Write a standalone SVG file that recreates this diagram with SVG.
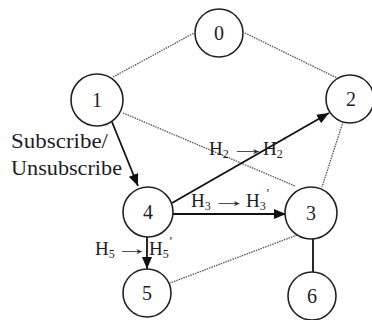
<svg xmlns="http://www.w3.org/2000/svg" width="372" height="320" viewBox="0 0 372 320" font-family="'Liberation Serif', 'Times New Roman', serif">
  <defs>
    <marker id="arrow" viewBox="0 0 12 10" refX="12" refY="5" markerWidth="12" markerHeight="10" markerUnits="userSpaceOnUse" orient="auto">
      <path d="M0,0 L12,5 L0,10 z" fill="#111"/>
    </marker>
  </defs>
  <style>
    text { font-family: "Liberation Serif", "Times New Roman", serif; }
    .node circle { fill: #fff; stroke: #222; stroke-width: 1.6; }
    .node text { font-size: 20px; fill: #1d1d28; text-anchor: middle; }
    .dot { stroke: #555; stroke-width: 1.3; stroke-dasharray: 1.5 1; fill: none; }
    .solid { stroke: #111; stroke-width: 1.8; fill: none; }
    .arr { stroke: #111; stroke-width: 1.8; fill: none; marker-end: url(#arrow); }
    .lbl { font-size: 20px; fill: #1d1d28; }
    .hl { font-size: 19px; fill: #1d1d28; }
    .sub { font-size: 12px; }
  </style>
  <rect width="372" height="320" fill="#fff"/>

  <!-- links between peers -->
  <g id="connectors">
    <line class="dot" x1="113" y1="77" x2="194" y2="33"/>
    <line class="dot" x1="245" y1="33" x2="337" y2="78"/>
    <line class="dot" x1="123" y1="113" x2="295" y2="186"/>
    <line class="dot" x1="343" y1="122" x2="322" y2="187"/>
    <line class="dot" x1="297" y1="235" x2="170" y2="283"/>
    <line class="solid" x1="313" y1="237" x2="313" y2="272"/>
    <line class="arr" x1="112" y1="122" x2="138" y2="186"/>
    <line class="arr" x1="172" y1="203" x2="329" y2="113"/>
    <line class="arr" x1="172" y1="214" x2="286" y2="214"/>
    <line class="arr" x1="147" y1="237" x2="147" y2="269"/>
  </g>

  <g id="node-0" class="node"><circle cx="219" cy="33" r="24"/><text x="219" y="40">0</text></g>
  <g id="node-1" class="node"><circle cx="97" cy="100" r="26"/><text x="97" y="107">1</text></g>
  <g id="node-2" class="node"><circle cx="350" cy="99" r="24"/><text x="351" y="106">2</text></g>
  <g id="node-3" class="node"><circle cx="311" cy="213" r="26"/><text x="311" y="220">3</text></g>
  <g id="node-4" class="node"><circle cx="148" cy="212" r="25"/><text x="148" y="219">4</text></g>
  <g id="node-5" class="node"><circle cx="147" cy="293" r="24"/><text x="147" y="300">5</text></g>
  <g id="node-6" class="node"><circle cx="312" cy="296" r="24"/><text x="312" y="303">6</text></g>

  <!-- edge labels; the long arrows are stretched with textLength -->
  <g id="labels">
    <text class="lbl" x="11" y="148" textLength="97" lengthAdjust="spacingAndGlyphs">Subscribe/</text>
    <text class="lbl" x="11" y="175" textLength="111" lengthAdjust="spacingAndGlyphs">Unsubscribe</text>

    <text class="hl" y="155"><tspan x="209">H</tspan><tspan class="sub" dy="3">2</tspan><tspan x="229" dy="-3" textLength="38" lengthAdjust="spacingAndGlyphs">→</tspan><tspan x="263">H</tspan><tspan class="sub" dy="3">2</tspan><tspan class="sub" dy="-13">’</tspan></text>

    <text class="hl" y="207"><tspan x="191">H</tspan><tspan class="sub" dy="3">3</tspan><tspan x="211" dy="-3" textLength="36" lengthAdjust="spacingAndGlyphs">→</tspan><tspan x="246">H</tspan><tspan class="sub" dy="3">3</tspan><tspan class="sub" dy="-13">’</tspan></text>

    <text class="hl" y="255"><tspan x="95">H</tspan><tspan class="sub" dy="3">5</tspan><tspan x="115" dy="-3" textLength="34" lengthAdjust="spacingAndGlyphs">→</tspan><tspan x="149">H</tspan><tspan class="sub" dy="3">5</tspan><tspan class="sub" dy="-13">’</tspan></text>
  </g>
</svg>
